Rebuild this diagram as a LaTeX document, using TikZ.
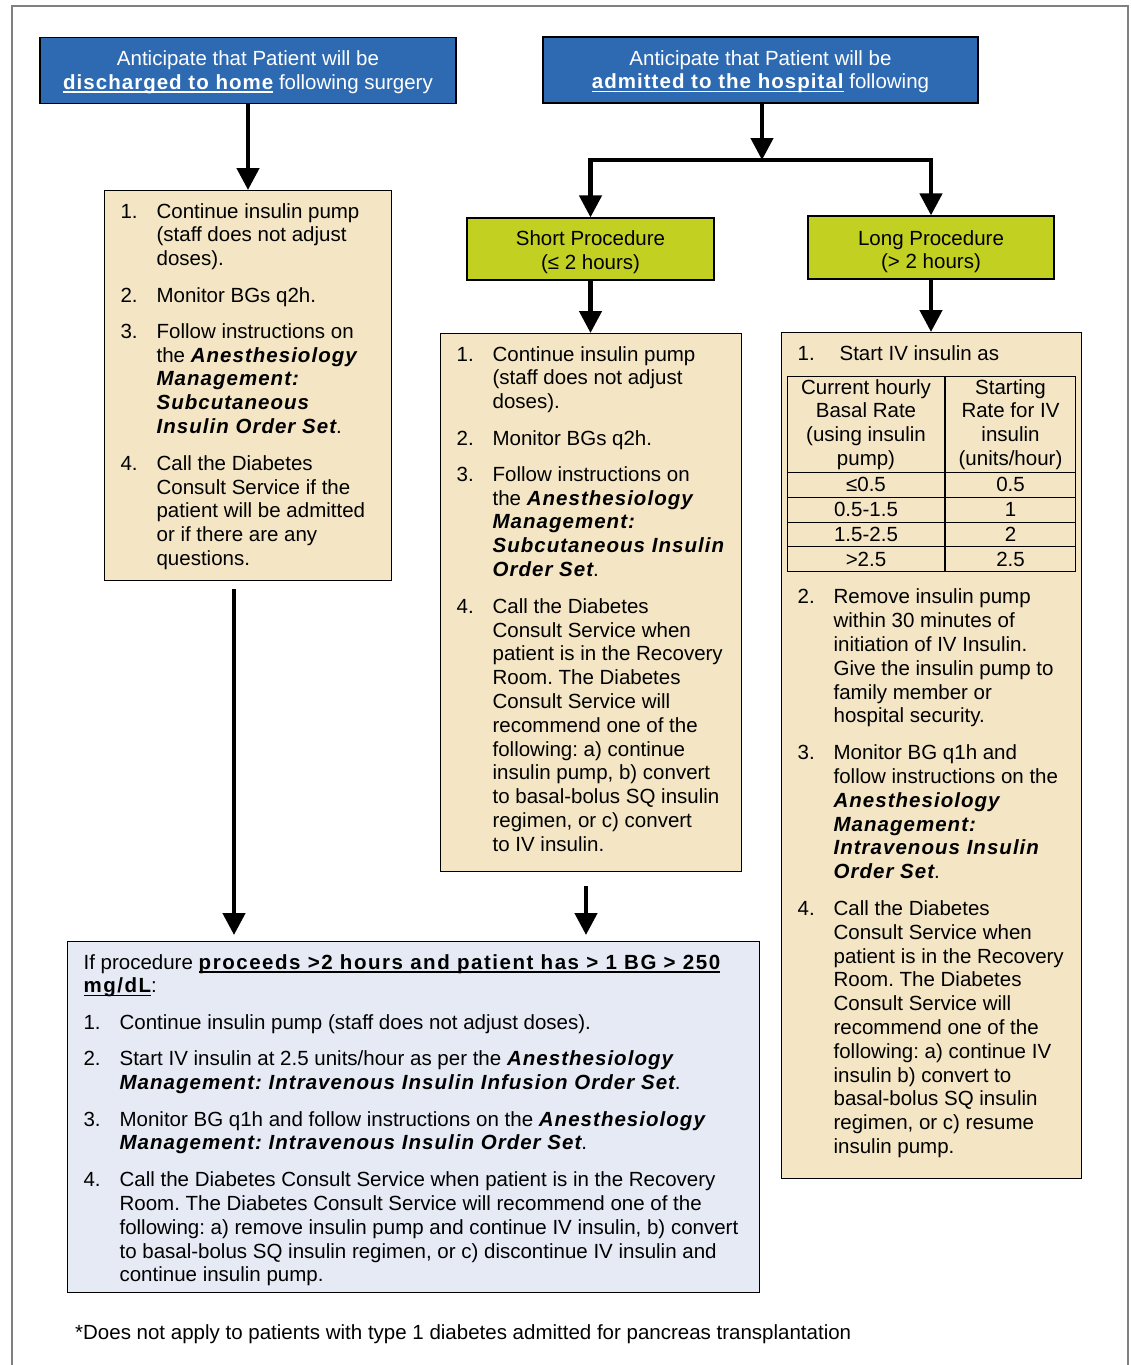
\documentclass[tikz,border=0pt]{standalone}
\usepackage{fontspec}
\setmainfont{Liberation Sans}
\newfontfamily\spfam{Liberation Sans}[LetterSpace=5]
\newfontfamily\widefam{Liberation Sans}[LetterSpace=7.5]
\usepackage{tikz}
\usetikzlibrary{arrows.meta,positioning}
\definecolor{hdrblue}{RGB}{45,106,178}
\definecolor{notetan}{RGB}{244,230,196}
\definecolor{procgreen}{RGB}{194,208,34}
\definecolor{ifblue}{RGB}{230,234,245}
\definecolor{framegray}{RGB}{128,128,128}

\newcommand\bi[1]{{\spfam\bfseries\itshape #1}}
\newcommand\ubf[2][\spfam]{\setbox0\hbox{#1\bfseries #2}\rlap{\rule[-3.5pt]{\wd0}{1.5pt}}\box0\relax}
\newcommand\itm[3][36pt]{\makebox[#1][l]{#2}\begin{tabular}[t]{@{}l@{}}#3\end{tabular}\par}
\newcommand\steps[2]{\begin{minipage}[t]{#1}\frenchspacing\setlength{\parskip}{12pt}#2\end{minipage}}

\begin{document}
\begin{tikzpicture}[x=1pt, y=-1pt,
    every node/.style={font=\fontsize{20.5pt}{23.8pt}\selectfont},
    header/.style={draw=black, line width=1.2pt, fill=hdrblue, text=white, align=center, minimum height=66pt, inner sep=0pt, text height=42pt},
    proc/.style={draw=black, line width=1.2pt, fill=procgreen, align=center, minimum height=62pt, minimum width=247pt, inner sep=0pt, text height=45pt},
    listbox/.style={draw=black, line width=1.2pt, anchor=north west, inner xsep=16pt, inner ysep=12pt, text height=15.5pt},
    cell/.style={draw=black, line width=1pt, anchor=north west, inner sep=0pt, align=center},
    arrow/.style={-{Triangle[width=22pt,length=22pt]}, line width=4.5pt}
]
\useasboundingbox (0,0) rectangle (1130,1365);
\draw[framegray, line width=1.5pt] (12,1365) -- (12,6) -- (1128,6) -- (1128,1365);

% top row
\node[header, minimum width=416pt] (home) at (248,70.5) {Anticipate that Patient will be\\\ubf{discharged to home} following surgery};
\node[header, minimum width=435pt] (hosp) at (760.5,70) {Anticipate that Patient will be\\\ubf{admitted to the hospital} following};

\node[proc] (short) at (590.5,249) {Short Procedure\\(≤ 2 hours)};
\node[proc, minimum width=246pt, minimum height=63pt, text height=47pt] (long) at (931,247.5) {Long Procedure\\(> 2 hours)};

% step lists
\node[listbox, fill=notetan, text depth=350.5pt] (homesteps) at (104,190) {\steps{255pt}{%
\itm{1.}{Continue insulin pump\\(staff does not adjust\\doses).}
\itm{2.}{Monitor BGs q2h.}
\itm{3.}{Follow instructions on\\the \bi{Anesthesiology}\\\bi{Management:}\\\bi{Subcutaneous}\\\bi{Insulin Order Set}.}
\itm{4.}{Call the Diabetes\\Consult Service if the\\patient will be admitted\\or if there are any\\questions.}}};

\node[listbox, fill=notetan, text depth=498.5pt] (shortsteps) at (440,333) {\steps{269pt}{%
\itm{1.}{Continue insulin pump\\(staff does not adjust\\doses).}
\itm{2.}{Monitor BGs q2h.}
\itm{3.}{Follow instructions on\\the \bi{Anesthesiology}\\\bi{Management:}\\\bi{Subcutaneous Insulin}\\\bi{Order Set}.}
\itm{4.}{Call the Diabetes\\Consult Service when\\patient is in the Recovery\\Room. The Diabetes\\Consult Service will\\recommend one of the\\following: a) continue\\insulin pump, b) convert\\to basal-bolus SQ insulin\\regimen, or c) convert\\to IV insulin.}}};

\node[listbox, fill=notetan, text depth=806.5pt] (longsteps) at (781,332) {\steps{268pt}{%
\itm[42pt]{1.}{Start IV insulin as}
\vspace{208pt}
\itm{2.}{Remove insulin pump\\within 30 minutes of\\initiation of IV Insulin.\\Give the insulin pump to\\family member or\\hospital security.}
\itm{3.}{Monitor BG q1h and\\follow instructions on the\\\bi{Anesthesiology}\\\bi{Management:}\\\bi{Intravenous Insulin}\\\bi{Order Set}.}
\itm{4.}{Call the Diabetes\\Consult Service when\\patient is in the Recovery\\Room. The Diabetes\\Consult Service will\\recommend one of the\\following: a) continue IV\\insulin b) convert to\\basal-bolus SQ insulin\\regimen, or c) resume\\insulin pump.}}};

% rate table
\node[cell, minimum width=157pt, minimum height=96pt] (rateold) at (787,376) {Current hourly\\Basal Rate\\(using insulin\\pump)};
\node[cell, minimum width=130pt, minimum height=96pt] (ratenew) at (rateold.north east) {Starting\\Rate for IV\\insulin\\(units/hour)};
\foreach \old/\new [count=\i] in {≤0.5/0.5, 0.5-1.5/1, 1.5-2.5/2, >2.5/2.5} {
  \node[cell, minimum width=157pt, minimum height=24.75pt] (old\i) at (787,{472+24.75*(\i-1)}) {\old};
  \node[cell, minimum width=130pt, minimum height=24.75pt] (new\i) at (old\i.north east) {\new};
}

\node[listbox, fill=ifblue, text depth=311.5pt] (overrun) at (67,941) {\steps{660pt}{%
\begin{tabular}[t]{@{}l@{}}If procedure \ubf[\widefam]{proceeds >2 hours and patient has > 1 BG > 250}\\\ubf[\widefam]{mg/dL}:\end{tabular}\par
\itm{1.}{Continue insulin pump (staff does not adjust doses).}
\itm{2.}{Start IV insulin at 2.5 units/hour as per the \bi{Anesthesiology}\\\bi{Management: Intravenous Insulin Infusion Order Set}.}
\itm{3.}{Monitor BG q1h and follow instructions on the \bi{Anesthesiology}\\\bi{Management: Intravenous Insulin Order Set}.}
\itm{4.}{Call the Diabetes Consult Service when patient is in the Recovery\\Room. The Diabetes Consult Service will recommend one of the\\following: a) remove insulin pump and continue IV insulin, b) convert\\to basal-bolus SQ insulin regimen, or c) discontinue IV insulin and\\continue insulin pump.}}};

\node[anchor=base west, inner sep=0pt] (note) at (75,1339) {*Does not apply to patients with type 1 diabetes admitted for pancreas transplantation};

% connectors
\coordinate (split) at (762,160);
\coordinate (homeout) at (234,589);
\coordinate (shortout) at (586,886);
\draw[arrow] (home.south) -- (home.south |- homesteps.north);
\draw[arrow] (hosp.south -| split) -- (split);
\draw[arrow] (split) -| (short.north);
\draw[arrow] (split) -| (long.north);
\draw[arrow] (short.south) -- (short.south |- shortsteps.north);
\draw[arrow] (long.south) -- (long.south |- longsteps.north);
\draw[arrow, shorten >=6pt] (homeout) -- (homeout |- overrun.north);
\draw[arrow, shorten >=6pt] (shortout) -- (shortout |- overrun.north);
\end{tikzpicture}
\end{document}
